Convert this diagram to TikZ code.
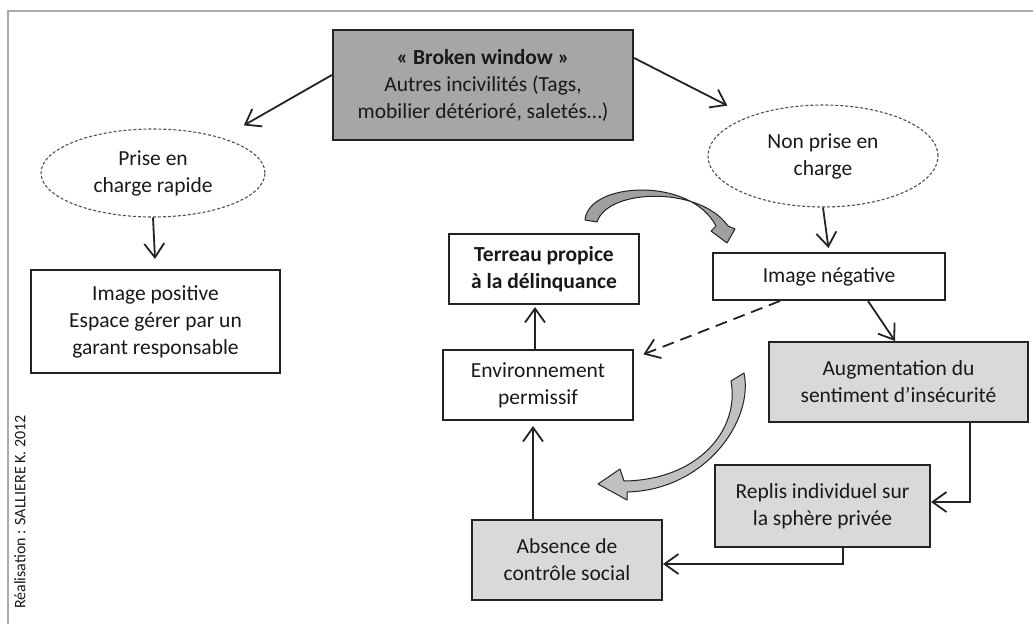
\documentclass[tikz,border=0pt]{standalone}
\usepackage{fontspec}
\setmainfont{Carlito}
\usetikzlibrary{shapes.geometric,arrows.meta,calc}
\definecolor{txt}{RGB}{25,25,25}
\definecolor{ln}{RGB}{35,35,35}
\definecolor{dkfill}{RGB}{166,166,166}
\definecolor{ltfill}{RGB}{217,217,217}
\definecolor{framecol}{RGB}{170,170,170}
\definecolor{barrow}{RGB}{160,160,160}
\definecolor{barrowb}{RGB}{192,192,192}
\tikzset{
  base/.style={align=center, text=txt, font=\fontsize{21.5}{27}\selectfont, inner sep=0pt},
  plainbox/.style={base, draw=ln, line width=2pt, fill=white, minimum width=#1},
  greybox/.style={base, draw=ln, line width=2pt, fill=ltfill, minimum width=#1},
  oval/.style={base, ellipse, draw=ln!80, line width=1.1pt, dash pattern=on 3pt off 2pt, inner sep=0pt},
  arr/.style={draw=ln, line width=1.8pt, -{Straight Barb[length=14pt,width=20pt,line width=1.8pt]}},
  blockarrow/.style={draw=ln, line width=1pt, line join=round},
}
\begin{document}
\begin{tikzpicture}[x=1pt,y=-1pt]
\useasboundingbox (0,0) rectangle (1033,624);
% frame
\draw[framecol, line width=2pt] (8,624) -- (8,11) -- (1033,11);

% nodes
\node[base, draw=ln, line width=2.2pt, fill=dkfill, minimum width=300pt, minimum height=110pt] (bw) at (483,85)
  {\textbf{«~Broken window~»}\\Autres incivilités (Tags,\\mobilier détérioré, saletés…)};
\node[oval, minimum width=224pt, minimum height=88pt] (prise) at (153,173) {Prise en\\charge rapide};
\node[plainbox=249pt, minimum height=103pt] (imgpos) at (155.5,321.5) {Image positive\\Espace gérer par un\\garant responsable};
\node[oval, minimum width=230pt, minimum height=102pt] (nonprise) at (823,156) {Non prise en\\charge};
\node[plainbox=232pt, minimum height=47pt] (imgneg) at (829,276.5) {Image négative};
\node[plainbox=190pt, minimum height=70pt] (terreau) at (544,269) {\textbf{Terreau propice}\\\textbf{à la délinquance}};
\node[plainbox=190pt, minimum height=70pt] (env) at (538,385) {Environnement\\permissif};
\node[greybox=259pt, minimum height=80pt] (aug) at (898.5,382) {Augmentation du\\sentiment d’insécurité};
\node[greybox=215pt, minimum height=82pt] (replis) at (822.5,506) {Replis individuel sur\\la sphère privée};
\node[greybox=190pt, minimum height=80pt] (abs) at (567,560) {Absence de\\contrôle social};

\node[base, rotate=90, font=\fontsize{16}{19}\selectfont] (real) at (20,512) {Réalisation : SALLIERE K. 2012};

% connectors
\draw[arr, shorten >=25pt] ([yshift=10pt]bw.west) -- (prise.27);
\draw[arr, shorten >=24pt] ([yshift=27pt]bw.east) -- (nonprise.152);
\draw[arr, shorten >=10pt] (prise.south) -- (imgpos.north);
\draw[arr, shorten >=4pt] (nonprise.south) -- (imgneg.north);
\draw[arr, shorten >=2pt] ([xshift=-3pt]env.north) -- ([xshift=-9pt]terreau.south);
\draw[arr, shorten >=5pt] ([xshift=-34pt]abs.north) -- ([xshift=-5pt]env.south);
\draw[arr] ([xshift=39pt]imgneg.south) -- ([xshift=-3.5pt]aug.north);
\draw[arr, dash pattern=on 12pt off 7pt, shorten >=10pt] ([xshift=-49pt]imgneg.south) -- ([yshift=27pt]env.east);
\draw[arr] ([xshift=71.5pt]aug.south) |- ([yshift=4pt]replis.east);
\draw[arr] ([xshift=20.5pt]replis.south) |- ([yshift=-4pt]abs.east);

% curved block arrows
\draw[blockarrow, fill=barrow]
  (585,220) .. controls (588,182) and (690,176) .. (716,226)
  -- (711,231) -- (727,243) -- (735,229) -- (728,226)
  .. controls (700,186) and (608,188) .. (597,222) -- cycle;
\draw[blockarrow, fill=barrowb]
  (731,381) -- (744,373)
  .. controls (754,420) and (706,490) .. (627,492)
  -- (627,500) -- (598,484) -- (620,469) -- (624,481)
  .. controls (698,480) and (740,430) .. (731,381) -- cycle;
\end{tikzpicture}
\end{document}
